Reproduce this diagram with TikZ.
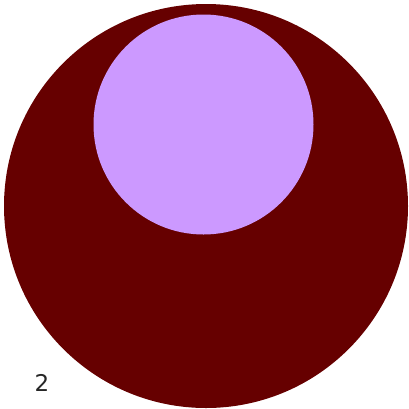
\documentclass[tikz,border=0pt]{standalone}
\usepackage{fontspec}
\setmainfont{DejaVu Sans}
\usetikzlibrary{positioning}

\definecolor{darkmaroon}{HTML}{660000}
\definecolor{lavender}{HTML}{CC99FF}

\begin{document}
\begin{tikzpicture}[x=1pt, y=-1pt,
    every node/.style={inner sep=0pt},
    outer/.style={circle, fill=darkmaroon, minimum size=404pt},
    inner/.style={circle, fill=lavender, minimum size=220pt},
    tag/.style={font=\fontsize{23}{26}\selectfont, text=black!85}]

  \useasboundingbox (0,0) rectangle (409,408);

  \node[outer] (big) at (206,206) {};
  \node[inner] (core) at (203.5,124.5) {};

  \node[tag] (num) at (42,383) {2};
\end{tikzpicture}
\end{document}
